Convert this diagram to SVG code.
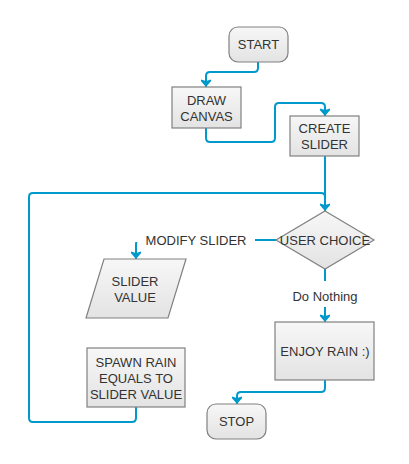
<svg xmlns="http://www.w3.org/2000/svg" width="409" height="464" viewBox="0 0 409 464">
<style>
.n{fill:url(#g);stroke:#808080;stroke-width:1.2}
.t{font-family:"Liberation Sans",Arial,sans-serif;font-size:13px;fill:#333333;text-anchor:middle;dominant-baseline:central}
.c{fill:none;stroke:#0099cc;stroke-width:2}
.a{marker-end:url(#ar)}
</style>
<defs>
<linearGradient id="g" x1="0" y1="0" x2="0" y2="1">
<stop offset="0" stop-color="#f7f7f7"/>
<stop offset="1" stop-color="#e3e3e3"/>
</linearGradient>
<marker id="ar" markerUnits="userSpaceOnUse" markerWidth="16" markerHeight="10" refX="14" refY="5" orient="auto">
<path d="M14,5 L6,-2 L8,5 L6,12 Z" fill="#0099cc"/>
</marker>
</defs>
<rect width="409" height="464" fill="#ffffff"/>
<g id="connectors">
<path class="c a" d="M258,62 V68 Q258,72 254,72 H210 Q206,72 206,76 V87"/>
<path class="c a" d="M206,128 V138 Q206,142 210,142 H271 Q275,142 275,138 V107 Q275,103 279,103 H321 Q325,103 325,107 V116"/>
<path class="c a" d="M325,156 V211"/>
<path class="c" d="M136,407 V418 Q136,422 132,422 H33 Q29,422 29,418 V197 Q29,193 33,193 H321 Q325,193 325,197"/>
<path class="c a" d="M276,240 H140 Q136,240 136,244 V259"/>
<rect x="131" y="230" width="124" height="12" fill="#ffffff"/>
<text class="t" x="196" y="240">MODIFY SLIDER</text>
<path class="c a" d="M325,269 V322"/>
<rect x="288" y="281" width="74" height="26" fill="#ffffff"/>
<text class="t" x="325" y="296">Do Nothing</text>
<path class="c a" d="M325,380 V388 Q325,392 321,392 H241 Q237,392 237,396 V404"/>
</g>
<g id="start">
<rect class="n" x="229" y="27" width="59" height="35" rx="9"/>
<text class="t" x="258.5" y="44.5">START</text>
</g>
<g id="draw-canvas">
<rect class="n" x="172" y="87" width="69" height="41"/>
<text class="t" x="206.5" y="100">DRAW</text>
<text class="t" x="206.5" y="116">CANVAS</text>
</g>
<g id="create-slider">
<rect class="n" x="290" y="116" width="69" height="40"/>
<text class="t" x="324.5" y="128">CREATE</text>
<text class="t" x="324.5" y="144">SLIDER</text>
</g>
<g id="user-choice">
<path class="n" d="M325,211 L374,240 L325,269 L276,240 Z"/>
<text class="t" x="325" y="240">USER CHOICE</text>
</g>
<g id="slider-value">
<path class="n" d="M104,259 H186 L168,318 H86 Z"/>
<text class="t" x="135" y="281">SLIDER</text>
<text class="t" x="135" y="297">VALUE</text>
</g>
<g id="spawn-rain">
<rect class="n" x="87" y="348" width="98" height="59"/>
<text class="t" x="136" y="362">SPAWN RAIN</text>
<text class="t" x="136" y="378">EQUALS TO</text>
<text class="t" x="136" y="394">SLIDER VALUE</text>
</g>
<g id="enjoy-rain">
<rect class="n" x="275" y="322" width="99" height="58"/>
<text class="t" x="325" y="351">ENJOY RAIN :)</text>
</g>
<g id="stop">
<rect class="n" x="207" y="404" width="59" height="35" rx="9"/>
<text class="t" x="236.5" y="421.5">STOP</text>
</g>
</svg>
